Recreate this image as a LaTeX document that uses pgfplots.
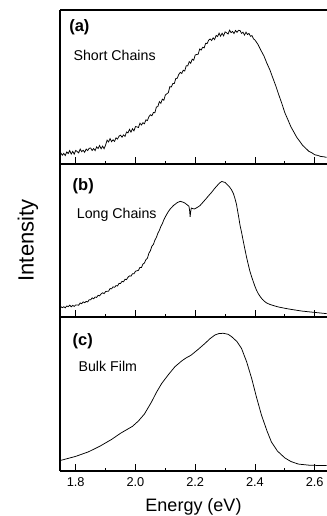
\documentclass[border=0pt]{standalone}
\usepackage{fontspec}
\setmainfont{Liberation Sans}
\usepackage{pgfplots}
\pgfplotsset{compat=1.18}

\pgfplotstableread{
x y
1.750 0.072
1.755 0.057
1.760 0.069
1.765 0.055
1.770 0.078
1.775 0.068
1.780 0.087
1.785 0.065
1.790 0.082
1.795 0.064
1.800 0.088
1.805 0.081
1.810 0.072
1.815 0.097
1.820 0.080
1.825 0.089
1.830 0.076
1.835 0.097
1.840 0.087
1.845 0.102
1.850 0.104
1.855 0.088
1.860 0.100
1.865 0.087
1.870 0.111
1.875 0.101
1.880 0.120
1.885 0.099
1.890 0.116
1.895 0.099
1.900 0.123
1.905 0.155
1.910 0.143
1.915 0.165
1.920 0.145
1.925 0.157
1.930 0.147
1.935 0.170
1.940 0.162
1.945 0.181
1.950 0.187
1.955 0.174
1.960 0.189
1.965 0.179
1.970 0.208
1.975 0.202
1.980 0.225
1.985 0.207
1.990 0.229
1.995 0.215
2.000 0.243
2.005 0.241
2.010 0.237
2.015 0.265
2.020 0.253
2.025 0.268
2.030 0.261
2.035 0.287
2.040 0.282
2.045 0.307
2.050 0.320
2.055 0.313
2.060 0.334
2.065 0.333
2.070 0.370
2.075 0.373
2.080 0.405
2.085 0.394
2.090 0.421
2.095 0.414
2.100 0.448
2.105 0.456
2.110 0.463
2.115 0.502
2.120 0.500
2.125 0.522
2.130 0.522
2.135 0.555
2.140 0.557
2.145 0.582
2.150 0.595
2.155 0.588
2.160 0.609
2.165 0.604
2.170 0.638
2.175 0.637
2.180 0.665
2.185 0.654
2.190 0.681
2.195 0.674
2.200 0.708
2.205 0.711
2.210 0.713
2.215 0.747
2.220 0.740
2.225 0.758
2.230 0.754
2.235 0.784
2.240 0.782
2.245 0.804
2.250 0.812
2.255 0.802
2.260 0.819
2.265 0.808
2.270 0.835
2.275 0.828
2.280 0.850
2.285 0.830
2.290 0.849
2.295 0.832
2.300 0.858
2.305 0.852
2.310 0.844
2.315 0.869
2.320 0.853
2.325 0.861
2.330 0.847
2.335 0.867
2.340 0.855
2.345 0.868
2.350 0.867
2.355 0.848
2.360 0.856
2.365 0.837
2.370 0.856
2.375 0.841
2.380 0.848
2.385 0.829
2.390 0.834
2.395 0.813
2.400 0.805
2.410 0.777
2.420 0.738
2.430 0.702
2.440 0.654
2.450 0.611
2.460 0.558
2.470 0.506
2.480 0.448
2.490 0.393
2.500 0.333
2.510 0.289
2.520 0.243
2.530 0.208
2.540 0.173
2.550 0.147
2.560 0.120
2.570 0.102
2.580 0.083
2.590 0.073
2.600 0.060
2.610 0.056
2.620 0.049
2.630 0.047
2.640 0.043
}\dataA

\pgfplotstableread{
x y
1.750 0.068
1.755 0.061
1.760 0.067
1.765 0.060
1.770 0.072
1.775 0.068
1.780 0.077
1.785 0.067
1.790 0.076
1.795 0.069
1.800 0.079
1.805 0.079
1.810 0.077
1.815 0.092
1.820 0.087
1.825 0.099
1.830 0.093
1.835 0.102
1.840 0.098
1.845 0.113
1.850 0.112
1.855 0.125
1.860 0.119
1.865 0.131
1.870 0.128
1.875 0.142
1.880 0.138
1.885 0.151
1.890 0.158
1.895 0.153
1.900 0.166
1.905 0.168
1.910 0.169
1.915 0.186
1.920 0.184
1.925 0.197
1.930 0.194
1.935 0.205
1.940 0.203
1.945 0.220
1.950 0.219
1.955 0.233
1.960 0.230
1.965 0.247
1.970 0.244
1.975 0.260
1.980 0.269
1.985 0.267
1.990 0.283
1.995 0.282
2.000 0.299
2.005 0.302
2.010 0.305
2.015 0.324
2.020 0.323
2.025 0.346
2.030 0.353
2.035 0.375
2.040 0.384
2.045 0.417
2.050 0.433
2.055 0.463
2.060 0.474
2.065 0.502
2.070 0.520
2.075 0.547
2.080 0.566
2.085 0.592
2.090 0.610
2.095 0.635
2.100 0.655
2.105 0.672
2.110 0.689
2.116 0.705
2.122 0.718
2.128 0.730
2.135 0.740
2.140 0.748
2.145 0.752
2.150 0.756
2.155 0.753
2.160 0.750
2.165 0.745
2.170 0.738
2.175 0.730
2.179 0.724
2.181 0.700
2.183 0.655
2.185 0.690
2.187 0.712
2.192 0.708
2.197 0.706
2.203 0.712
2.210 0.720
2.216 0.728
2.225 0.748
2.235 0.770
2.245 0.793
2.255 0.815
2.265 0.840
2.275 0.862
2.283 0.878
2.289 0.886
2.295 0.882
2.300 0.880
2.307 0.866
2.315 0.850
2.322 0.830
2.328 0.806
2.333 0.775
2.338 0.738
2.345 0.660
2.350 0.600
2.355 0.555
2.361 0.495
2.367 0.437
2.372 0.390
2.378 0.340
2.383 0.300
2.389 0.262
2.395 0.228
2.400 0.200
2.405 0.176
2.411 0.153
2.418 0.132
2.425 0.115
2.432 0.102
2.439 0.092
2.450 0.082
2.460 0.076
2.470 0.070
2.480 0.065
2.500 0.057
2.520 0.050
2.540 0.044
2.556 0.039
2.580 0.034
2.600 0.030
2.620 0.026
2.640 0.022
}\dataB

\pgfplotstableread{
x y
1.748 0.068
1.800 0.095
1.842 0.124
1.880 0.160
1.920 0.205
1.950 0.245
1.965 0.262
1.990 0.290
2.010 0.325
2.030 0.370
2.054 0.449
2.070 0.510
2.088 0.569
2.110 0.625
2.132 0.677
2.155 0.715
2.170 0.735
2.180 0.745
2.188 0.755
2.210 0.790
2.233 0.829
2.250 0.860
2.266 0.883
2.280 0.893
2.294 0.894
2.310 0.888
2.322 0.872
2.340 0.840
2.355 0.796
2.372 0.710
2.389 0.601
2.405 0.480
2.422 0.362
2.440 0.262
2.455 0.189
2.475 0.130
2.500 0.085
2.520 0.062
2.545 0.045
2.580 0.038
2.612 0.036
2.640 0.035
}\dataC

\pgfplotsset{
  panel/.style={
    scale only axis,
    width=267bp,
    xmin=1.7474, xmax=2.6412,
    ymin=0, ymax=1,
    axis y line*=left,
    axis line style={line width=1.1bp},
    xtick={1.8,2.0,2.2,2.4,2.6},
    minor xtick={1.9,2.1,2.3,2.5},
    ytick=\empty,
    xtick pos=bottom,
    ytick pos=left,
    tick align=inside,
    major tick length=6.5bp,
    minor tick length=3.2bp,
    every tick/.style={black, line width=0.8bp},
    xticklabels={},
    /pgf/number format/assume math mode=true,
    clip=true,
  },
  curve/.style={black, line width=0.75bp, mark=none},
}
\tikzset{
  lbl/.style={anchor=west, font=\fontsize{16.5bp}{19bp}\selectfont\bfseries, inner sep=0pt},
  txt/.style={anchor=west, font=\fontsize{14.2bp}{17bp}\selectfont, inner sep=0pt},
}

\begin{document}
\begin{tikzpicture}
\useasboundingbox (0,0) rectangle (327bp,516bp);

% Panel (a)
\begin{axis}[panel, at={(60bp,352bp)}, anchor=south west, height=154bp,
  minor ytick={0.05,0.1,...,0.96}]
\addplot[curve] table[x=x,y=y] {\dataA};
\node[lbl] at (axis description cs:0.034,0.89) {(a)};
\node[txt] at (axis description cs:0.05,0.708) {Short Chains};
\end{axis}

% Panel (b)
\begin{axis}[panel, at={(60bp,199bp)}, anchor=south west, height=153bp,
  minor ytick={0.05,0.1,...,0.96},
  ylabel={Intensity},
  ylabel style={at={(axis description cs:-0.12,0.5)}, anchor=center, font=\fontsize{22bp}{25bp}\selectfont}]
\addplot[curve] table[x=x,y=y] {\dataB};
\node[lbl] at (axis description cs:0.047,0.852) {(b)};
\node[txt] at (axis description cs:0.0625,0.667) {Long Chains};
\end{axis}

% Panel (c)
\begin{axis}[panel, at={(60bp,45bp)}, anchor=south west, height=154bp,
  minor ytick={0.1,0.2,...,0.91},
  xticklabels={1.8,2.0,2.2,2.4,2.6},
  xticklabel style={font=\fontsize{12.8bp}{15bp}\selectfont, anchor=center, yshift=-11.5bp},
  xlabel={Energy (eV)},
  xlabel style={at={(axis description cs:0.5,-0.262)}, anchor=base, font=\fontsize{18bp}{21bp}\selectfont}]
\addplot[curve] table[x=x,y=y] {\dataC};
\node[lbl] at (axis description cs:0.047,0.844) {(c)};
\node[txt] at (axis description cs:0.069,0.682) {Bulk Film};
\end{axis}
\end{tikzpicture}
\end{document}
